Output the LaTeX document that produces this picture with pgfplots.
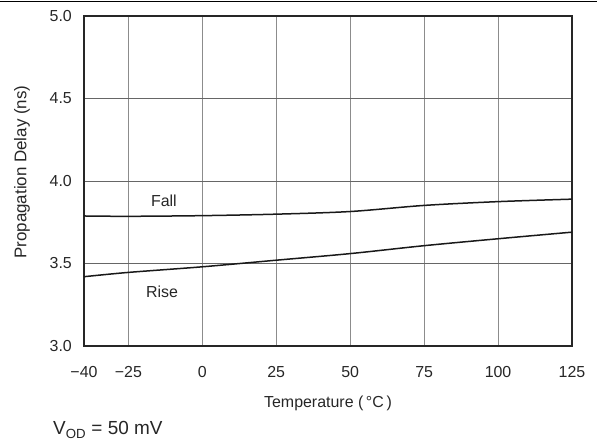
\documentclass[border=0pt]{standalone}
\usepackage{fontspec}
\setmainfont{Liberation Sans}
\usepackage{pgfplots}
\pgfplotsset{compat=1.18}

\begin{document}
\begin{tikzpicture}
\useasboundingbox (-84bp,-101bp) rectangle (513bp,346bp);
\draw[line width=1bp, black] (-84bp,344.5bp) -- (513bp,344.5bp);
\begin{axis}[
    scale only axis,
    width=488bp,
    height=330bp,
    xmin=-40, xmax=125,
    ymin=3, ymax=5,
    xtick={-40,-25,0,25,50,75,100,125},
    xticklabels={−40,−25,0,25,50,75,100,125},
    ytick={3,3.5,4,4.5,5},
    yticklabels={3.0,3.5,4.0,4.5,5.0},
    major tick length=0pt,
    axis line style={line width=1.6bp, black!85},
    grid=major,
    x grid style={line width=1bp, black!45},
    y grid style={line width=1bp, black!60},
    tick label style={font=\fontsize{16}{18}\selectfont, black!85},
    xticklabel style={anchor=center, inner sep=0pt, yshift=-26bp},
    yticklabel style={anchor=east, inner sep=0pt, xshift=-12bp},
    xlabel={Temperature (\,°C\,)},
    ylabel={Propagation Delay (ns)},
    every axis x label/.style={at={(axis description cs:0.5,-0.173)}, anchor=center,
        font=\fontsize{16}{18}\selectfont, black!85},
    every axis y label/.style={at={(axis description cs:-0.127,0.527)}, anchor=center, rotate=90,
        font=\fontsize{17}{19}\selectfont, black!85},
    clip=false,
]
\addplot[line width=1.5bp, black!90, smooth] coordinates {
    (-40,3.788) (-25,3.786) (0,3.790) (25,3.799) (50,3.815)
    (75,3.852) (100,3.875) (125,3.890)
};
\addplot[line width=1.5bp, black!90, smooth] coordinates {
    (-40,3.420) (-25,3.446) (0,3.480) (25,3.520) (50,3.560)
    (75,3.608) (100,3.650) (125,3.690)
};
\node[font=\fontsize{16}{18}\selectfont, black!85] at (axis cs:-13,3.88) {Fall};
\node[font=\fontsize{16}{18}\selectfont, black!85] at (axis cs:-13.6,3.33) {Rise};
\node[font=\fontsize{19}{21}\selectfont, black!85, anchor=west, inner sep=0pt]
    at (axis description cs:-0.0635,-0.2545) {V\textsubscript{OD} = 50 mV};
\end{axis}
\end{tikzpicture}
\end{document}
